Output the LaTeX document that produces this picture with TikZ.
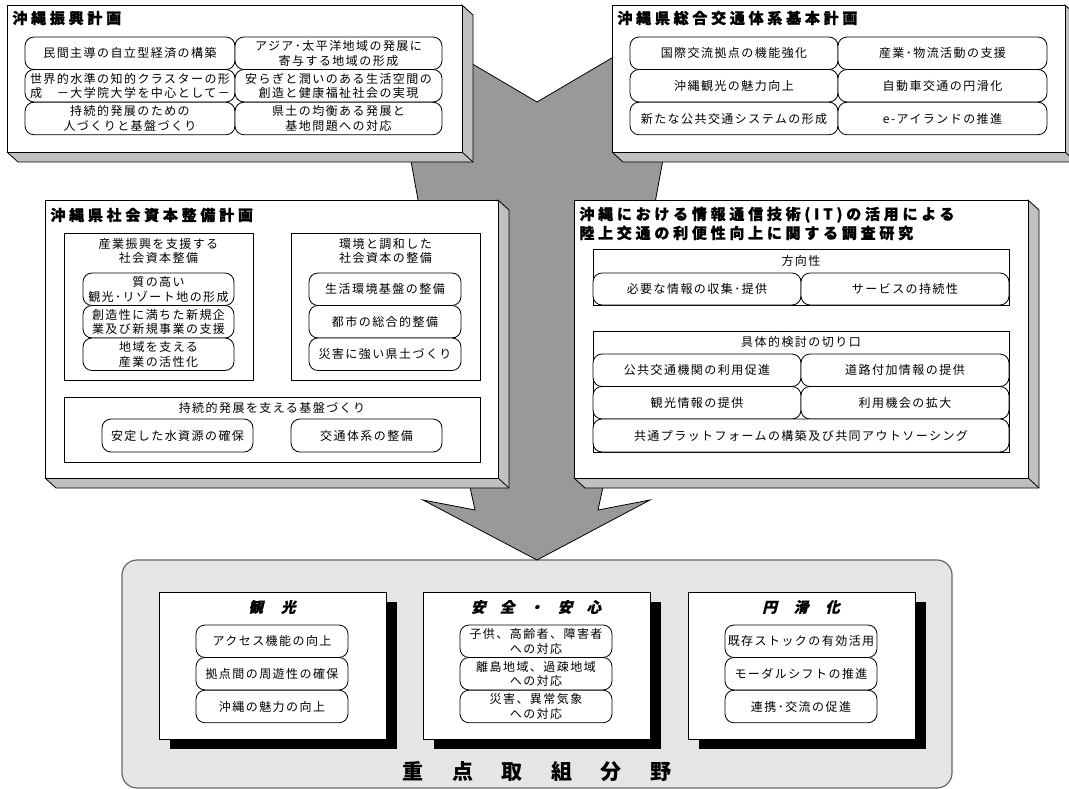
\documentclass[tikz,border=0pt]{standalone}
\usepackage{fontspec}
\usepackage{xcolor}
\usepackage{tikz}
\newfontfamily\jpbody[LetterSpace=12]{Noto Sans CJK JP}
\newfontfamily\jphead[LetterSpace=25,FakeBold=1]{Noto Sans CJK JP}
\newfontfamily\jpslant[LetterSpace=25,FakeSlant=0.25,FakeBold=1]{Noto Sans CJK JP}
\newfontfamily\jpbig[LetterSpace=18]{Noto Sans CJK JP}
\definecolor{bevelgray}{HTML}{C0C0C0}
\definecolor{arrowgray}{HTML}{999999}
\definecolor{fieldgray}{HTML}{E5E5E5}
\definecolor{fieldedge}{HTML}{666666}

\begin{document}
\begin{tikzpicture}[x=1pt, y=-1pt, line width=0.8pt,
  panel/.style={draw, fill=white},
  bevel/.style={draw, fill=bevelgray, line join=round},
  frame/.style={draw, line width=0.6pt},
  pill/.style={draw, fill=white, rounded corners=9pt, inner sep=0pt, minimum height=32.5pt, align=center, font=\fontsize{12}{14.5}\jpbody},
  heading/.style={inner sep=0pt, font=\fontsize{15}{19}\jphead\bfseries},
  subhead/.style={inner sep=0pt, align=center, font=\fontsize{12}{14.5}\jpbody},
  fieldtitle/.style={inner sep=0pt, font=\fontsize{14.5}{17}\jpslant\bfseries},
]
\useasboundingbox (0,0) rectangle (1069,789);

% Bottom field and the big gray arrow behind everything
\draw[fill=fieldgray, draw=fieldedge, line width=1.2pt, rounded corners=15pt] (122,560) rectangle (952,788);
\draw[fill=arrowgray] (384,12) -- (537,102) -- (690,12) -- (603,487) -- (598,510) -- (650,500)
  -- (537,560) -- (423,500) -- (475,510) -- (470,487) -- cycle;

% Four raised plan boards
\foreach \xa/\ya/\xb/\yb in {7/5/462/152, 612/5/1065/152, 45/200/498/478, 574/200/1028/478} {
  \draw[bevel] (\xb,\ya) -- ++(11,10) -- ({\xb+11},{\yb+10}) -- ({\xa+11},{\yb+10}) -- (\xa,\yb) -- cycle;
  \draw (\xb,\yb) -- ++(11,10);
  \draw[panel] (\xa,\ya) rectangle (\xb,\yb);
}
\node[heading, anchor=west] (plan1) at (12,18) {沖縄振興計画};
\node[heading, anchor=west] (plan2) at (617,18) {沖縄県総合交通体系基本計画};
\node[heading, anchor=west] (plan3) at (50,215) {沖縄県社会資本整備計画};
\node[heading, anchor=west, align=left] (plan4) at (579,223.5) {沖縄における情報通信技術(IT)の活用による\\陸上交通の利便性向上に関する調査研究};

% Top left: promotion plan
\foreach \i/\yy/\al/\txt in {1/53.25/center/{民間主導の自立型経済の構築},
    2/85.75/left/{世界的水準の知的クラスターの形\\成　－大学院大学を中心として－},
    3/118.5/center/{持続的発展のための\\人づくりと基盤づくり}}
  \node[pill, minimum width=210pt, align=\al] (promoL\i) at (130,\yy) {\txt};
\foreach \i/\yy/\txt in {1/53.25/{アジア･太平洋地域の発展に\\寄与する地域の形成},
    2/85.75/{安らぎと潤いのある生活空間の\\創造と健康福祉社会の実現},
    3/118.5/{県土の均衡ある発展と\\基地問題への対応}}
  \node[pill, minimum width=207pt] (promoR\i) at (338.5,\yy) {\txt};

% Top right: transport plan
\foreach \i/\yy/\txt in {1/53.25/{国際交流拠点の機能強化}, 2/85.75/{沖縄観光の魅力向上},
    3/118.5/{新たな公共交通システムの形成}}
  \node[pill, minimum width=208pt] (transL\i) at (734,\yy) {\txt};
\foreach \i/\yy/\txt in {1/53.25/{産業･物流活動の支援}, 2/85.75/{自動車交通の円滑化},
    3/118.5/{e-アイランドの推進}}
  \node[pill, minimum width=209pt] (transR\i) at (942.5,\yy) {\txt};

% Middle left: infrastructure plan
\draw[frame] (64,233) rectangle (253,380);
\draw[frame] (291,233) rectangle (480,380);
\draw[frame] (64,397) rectangle (480,462);
\node[subhead] (infraA) at (158.5,251) {産業振興を支援する\\社会資本整備};
\node[subhead] (infraB) at (385.5,251) {環境と調和した\\社会資本の整備};
\node[subhead] (infraC) at (272,408) {持続的発展を支える基盤づくり};
\foreach \i/\yy/\txt in {1/289.25/{質の高い\\観光･リゾート地の形成}, 2/321.75/{創造性に満ちた新規企\\業及び新規事業の支援},
    3/354.25/{地域を支える\\産業の活性化}}
  \node[pill, minimum width=151pt] (infraA\i) at (158.5,\yy) {\txt};
\foreach \i/\yy/\txt in {1/289.25/{生活環境基盤の整備}, 2/321.75/{都市の総合的整備},
    3/354.25/{災害に強い県土づくり}}
  \node[pill, minimum width=152pt] (infraB\i) at (385,\yy) {\txt};
\node[pill, minimum width=151pt, minimum height=33pt] (infraC1) at (177.5,435.5) {安定した水資源の確保};
\node[pill, minimum width=151pt, minimum height=33pt] (infraC2) at (366.5,435.5) {交通体系の整備};

% Middle right: IT study
\draw[frame] (593,249) rectangle (1009,305);
\draw[frame] (593,331) rectangle (1009,452);
\node[subhead] (itDir) at (801,261) {方向性};
\node[subhead] (itCut) at (801,342) {具体的検討の切り口};
\node[pill, minimum width=208pt, minimum height=32pt] (itDir1) at (697,289) {必要な情報の収集･提供};
\node[pill, minimum width=208pt, minimum height=32pt] (itDir2) at (905,289) {サービスの持続性};
\foreach \i/\yy/\txtl/\txtr in {1/370.25/{公共交通機関の利用促進}/{道路付加情報の提供},
    2/402.75/{観光情報の提供}/{利用機会の拡大}} {
  \node[pill, minimum width=208pt] (itCutL\i) at (697,\yy) {\txtl};
  \node[pill, minimum width=208pt] (itCutR\i) at (905,\yy) {\txtr};
}
\node[pill, minimum width=416pt, minimum height=33pt] (itCut3) at (801,435.5) {共通プラットフォームの構築及び共同アウトソーシング};

% Bottom: three priority fields with black shadows
\foreach \xa in {159,423,688} {
  \fill ({\xa+11},602) rectangle ({\xa+238},749);
  \draw[panel, line width=0.6pt] (\xa,592) rectangle ({\xa+227},739);
}
\node[fieldtitle] (tour) at (272,607) {観\hspace{18pt}光};
\node[fieldtitle] (safe) at (536,607) {安\hspace{14.4pt}全\hspace{14.4pt}・\hspace{14.4pt}安\hspace{14.4pt}心};
\node[fieldtitle] (flow) at (801,607) {円\hspace{17pt}滑\hspace{17pt}化};
\foreach \i/\yy/\ta/\tb/\tc in {1/641.25/{アクセス機能の向上}/{子供、高齢者、障害者\\への対応}/{既存ストックの有効活用},
    2/673.75/{拠点間の周遊性の確保}/{離島地域、過疎地域\\への対応}/{モーダルシフトの推進},
    3/706.5/{沖縄の魅力の向上}/{災害、異常気象\\への対応}/{連携･交流の促進}} {
  \node[pill, minimum width=152pt] (tour\i) at (272,\yy) {\ta};
  \node[pill, minimum width=152pt] (safe\i) at (536,\yy) {\tb};
  \node[pill, minimum width=152pt] (flow\i) at (801,\yy) {\tc};
}
\node[font=\fontsize{21}{24}\jpbig\bfseries, inner sep=0pt] (fieldlabel) at (537,772) {重　点　取　組　分　野};
\end{tikzpicture}
\end{document}
